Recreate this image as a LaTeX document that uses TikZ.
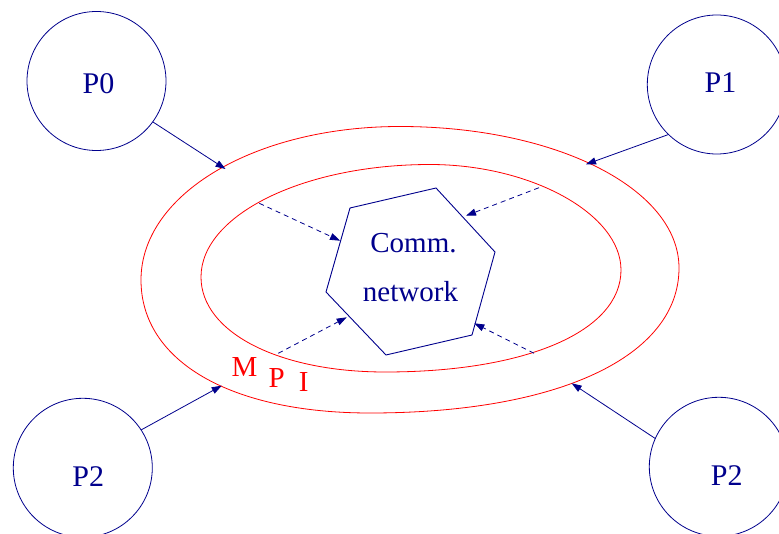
\documentclass[tikz,border=0pt]{standalone}
\usepackage{fontspec}
\setmainfont{Liberation Serif}
\usetikzlibrary{arrows.meta}
\definecolor{navy}{RGB}{0,0,140}
\begin{document}
\begin{tikzpicture}[x=1pt,y=-1pt,
  proc/.style={circle,draw=navy,line width=0.8pt,minimum size=139pt,inner sep=0pt,outer sep=0pt},
  lbl/.style={anchor=base,text=navy,font=\fontsize{30}{36}\selectfont,inner sep=0pt},
  netlbl/.style={anchor=base,text=navy,font=\fontsize{29}{34}\selectfont,inner sep=0pt},
  mpilbl/.style={anchor=base,text=red,inner sep=0pt,font=\fontsize{29}{34}\selectfont},
  solidarrow/.style={draw=navy,line width=0.8pt,-{Triangle[length=10pt,width=7pt]}},
  dasharrow/.style={solidarrow,dash pattern=on 5pt off 4pt},
  mpiring/.style={draw=red,line width=0.8pt},
  hexline/.style={draw=navy,line width=0.9pt,line join=miter}
]
\useasboundingbox (0,0) rectangle (779,534);

% processes
\node[proc] (p0) at (96.5,81) {};
\node[proc] (p1) at (716.8,84.5) {};
\node[proc] (p2a) at (82.8,467.8) {};
\node[proc] (p2b) at (718.8,466.8) {};
\node[lbl] (t0) at (98.5,93.3) {P0};
\node[lbl] (t1) at (720.5,92.3) {P1};
\node[lbl] (t2a) at (88.3,486) {P2};
\node[lbl] (t2b) at (726.7,485) {P2};

% MPI rings
\coordinate (oT) at (400,126.5);
\coordinate (oR) at (679,268);
\coordinate (oB) at (370,413);
\coordinate (oL) at (141,280);
\draw[mpiring] (oT) .. controls (556.2,126.5) and (679,188.8) .. (oR)
  .. controls (679,356.5) and (558.5,413) .. (oB)
  .. controls (230.3,413) and (141,361.1) .. (oL)
  .. controls (141,194) and (255,126.5) .. (oT) -- cycle;

\coordinate (iT) at (430,164.5);
\coordinate (iR) at (621,270);
\coordinate (iB) at (385,372);
\coordinate (iL) at (201,277);
\draw[mpiring] (iT) .. controls (531.2,164.5) and (621,214.1) .. (iR)
  .. controls (621,331.2) and (526.6,372) .. (iB)
  .. controls (278.3,372) and (201,332.1) .. (iL)
  .. controls (201,214.9) and (303.5,164.5) .. (iT) -- cycle;

% communication network
\coordinate (hA) at (350,208);
\coordinate (hB) at (436,188);
\coordinate (hC) at (495,252);
\coordinate (hD) at (472,335);
\coordinate (hE) at (386,355);
\coordinate (hF) at (326,292);
\draw[hexline] (hA) -- (hB) -- (hC) -- (hD) -- (hE) -- (hF) -- cycle;
\node[netlbl] (comm) at (413.5,253) {Comm.};
\node[netlbl] (net) at (410.5,301.7) {network};

% MPI label
\node[mpilbl] (mM) at (244.5,377) {M};
\node[mpilbl] (mP) at (276.7,387.3) {P};
\node[mpilbl] (mI) at (303.7,391.7) {I};

% connector end points
\coordinate (e0) at (225.5,169);
\coordinate (e1) at (586,164.3);
\coordinate (e2a) at (221.7,385.7);
\coordinate (e2b) at (571.7,383.3);
\coordinate (s0) at (259.3,203.3);
\coordinate (d0) at (340,240.7);
\coordinate (s1) at (539,187.7);
\coordinate (d1) at (466,215.7);
\coordinate (s2) at (278.3,353.3);
\coordinate (d2) at (346.7,317.3);
\coordinate (s3) at (534,353.3);
\coordinate (d3) at (474.3,323.3);

\draw[solidarrow] (p0.324.4) -- (e0);
\draw[solidarrow] (p1.226.7) -- (e1);
\draw[solidarrow] (p2a.33.8) -- (e2a);
\draw[solidarrow] (p2b.156.4) -- (e2b);

\draw[dasharrow] (s0) -- (d0);
\draw[dasharrow] (s1) -- (d1);
\draw[dasharrow] (s2) -- (d2);
\draw[dasharrow] (s3) -- (d3);
\end{tikzpicture}
\end{document}
